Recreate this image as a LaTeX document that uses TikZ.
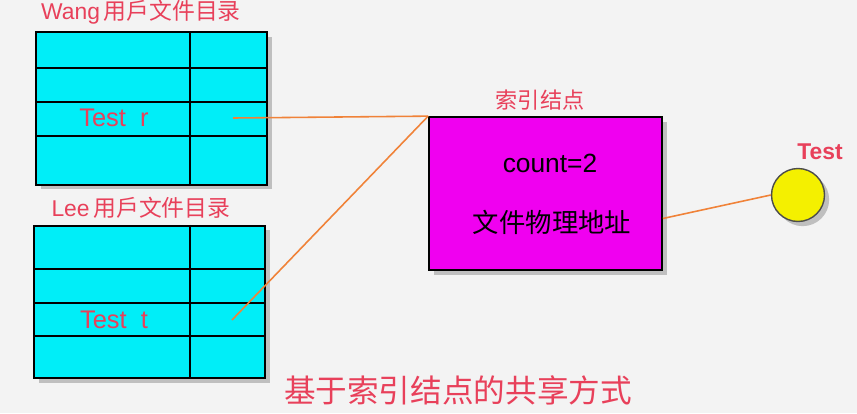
\documentclass[tikz,border=0pt]{standalone}
\usepackage{fontspec}
\setmainfont{Liberation Sans}
\newfontfamily\cjk{Noto Sans CJK SC}
\usepackage{tikz}
\usetikzlibrary{shadows,calc}
\definecolor{bgpaper}{HTML}{F3F3F3}
\definecolor{tabfill}{HTML}{00EEF8}
\definecolor{inofill}{HTML}{F000F0}
\definecolor{filefill}{HTML}{F4F000}
\definecolor{labred}{HTML}{E8405A}
\definecolor{link}{HTML}{F08238}

\begin{document}
\begin{tikzpicture}[x=0.02cm,y=-0.02cm,
  tab/.style={draw=black,line width=1pt,fill=tabfill,minimum width=4.62cm,
              minimum height=3.05cm,drop shadow={opacity=0.45}},
  ino/.style={draw=black,line width=1pt,fill=inofill,minimum width=4.66cm,
              minimum height=3.06cm,drop shadow={opacity=0.45}},
  fil/.style={circle,draw=black!70,line width=0.8pt,fill=filefill,minimum size=1.06cm,
              drop shadow={opacity=0.45}},
  lab/.style={text=labred,font=\fontsize{12.6}{14}\selectfont},
  txt/.style={font=\fontsize{15}{17}\selectfont},
  lnk/.style={color=link,line width=0.9pt}]
  \fill[bgpaper] (0,0) rectangle (857,413);
  \useasboundingbox (0,0) rectangle (857,413);
  \node[tab] (wang) at (151.5,108.5) {};
  \node[tab] (lee) at (149.5,302) {};
  \foreach \y in {68,102,136} \draw[line width=1pt] (wang.west |- 0,\y) -- (wang.east |- 0,\y);
  \foreach \y in {269,303,336} \draw[line width=1pt] (lee.west |- 0,\y) -- (lee.east |- 0,\y);
  \draw[line width=1pt] (190,0 |- wang.north) -- (190,0 |- wang.south);
  \draw[line width=1pt] (190,0 |- lee.north) -- (190,0 |- lee.south);
  \node[lab,font=\fontsize{13}{15}\selectfont] (wanglab) at (141,12) {Wang\,{\cjk 用戶文件目录}};
  \node[lab,font=\fontsize{13}{15}\selectfont] (leelab) at (141,208) {Lee\,{\cjk 用戶文件目录}};
  \node[lab,font=\fontsize{14.5}{16}\selectfont] (testr) at (114,118) {Test\ \ r};
  \node[lab,font=\fontsize{14.5}{16}\selectfont] (testt) at (114,320) {Test\ \ t};
  \coordinate (pr) at (233,118);
  \coordinate (pt) at (232,320);
  \node[ino] (inode) at (545.5,193.5) {};
  \node[lab] (inolab) at (540,100) {\cjk 索引结点};
  \node[txt] (cnt) at (550,163) {count=2};
  \node[txt] (addr) at (552,222) {\cjk 文件物理地址};
  \node[fil] (file) at (798,195) {};
  \node[lab,font=\bfseries\fontsize{13}{15}\selectfont] (filelab) at (820,152) {Test};
  \draw[lnk] (pr) -- (inode.north west);
  \draw[lnk] (pt) -- (inode.north west);
  \draw[lnk] ($(inode.east)+(0,25)$) -- (file.west);
  \node[text=labred,font=\cjk\fontsize{18}{20}\selectfont] (cap) at (458,390) {基于索引结点的共享方式};
\end{tikzpicture}
\end{document}
